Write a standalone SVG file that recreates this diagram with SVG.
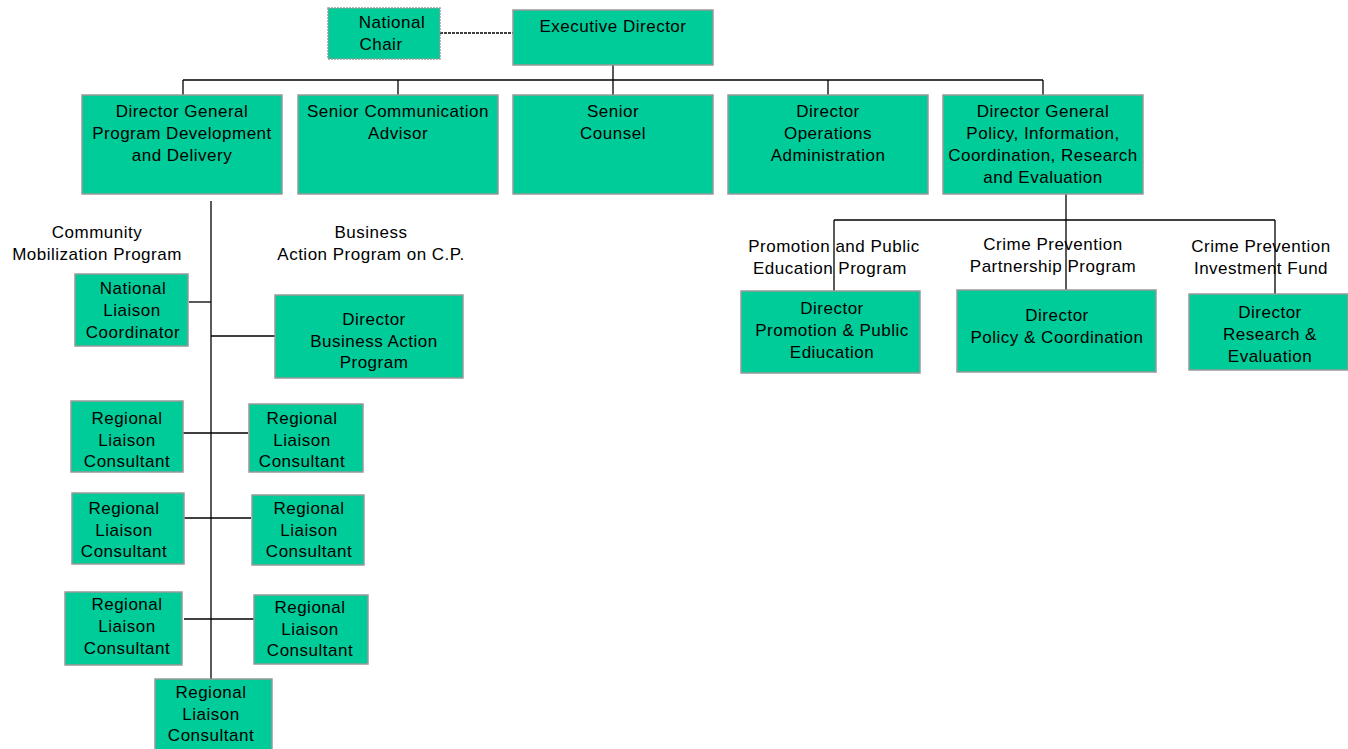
<svg xmlns="http://www.w3.org/2000/svg" width="1348" height="749" viewBox="0 0 1348 749">
<style>
.box{fill:#00cc99;stroke:#999999;stroke-width:1.5}
.t{font-family:"Liberation Sans",Arial,sans-serif;font-size:17px;letter-spacing:0.5px;fill:#000;text-anchor:middle}
.c{stroke:#000;stroke-width:1.3;fill:none}
</style>
<rect width="1348" height="749" fill="#fff"/>
<g id="connectors">
<line class="c" x1="440" y1="33" x2="513" y2="33" stroke-dasharray="3,1"/>
<line class="c" x1="613" y1="65" x2="613" y2="95"/>
<line class="c" x1="183" y1="80" x2="1043" y2="80"/>
<line class="c" x1="183" y1="80" x2="183" y2="95"/>
<line class="c" x1="398" y1="80" x2="398" y2="95"/>
<line class="c" x1="828" y1="80" x2="828" y2="95"/>
<line class="c" x1="1043" y1="80" x2="1043" y2="95"/>
<line class="c" x1="211" y1="201" x2="211" y2="679"/>
<line class="c" x1="189" y1="302" x2="211" y2="302"/>
<line class="c" x1="211" y1="336" x2="275" y2="336"/>
<line class="c" x1="183" y1="433" x2="248" y2="433"/>
<line class="c" x1="179" y1="518" x2="251" y2="518"/>
<line class="c" x1="184" y1="619" x2="256" y2="619"/>
<line class="c" x1="1066" y1="194" x2="1066" y2="290"/>
<line class="c" x1="834" y1="220" x2="1275" y2="220"/>
<line class="c" x1="834" y1="220" x2="834" y2="291"/>
<line class="c" x1="1275" y1="220" x2="1275" y2="294"/>
</g>
<g id="national-chair"><rect class="box" x="328" y="8" width="112" height="51" stroke-dasharray="2,1"/><text class="t" x="392" y="28">National</text><text class="t" x="381" y="50">Chair</text></g>
<g id="executive-director"><rect class="box" x="513" y="10" width="200" height="55"/><text class="t" x="613" y="32">Executive Director</text></g>
<g id="dg-program"><rect class="box" x="82" y="95" width="200" height="99"/><text class="t" x="182" y="117">Director General</text><text class="t" x="182" y="139">Program Development</text><text class="t" x="182" y="161">and Delivery</text></g>
<g id="senior-comm"><rect class="box" x="298" y="95" width="200" height="99"/><text class="t" x="398" y="117">Senior Communication</text><text class="t" x="398" y="139">Advisor</text></g>
<g id="senior-counsel"><rect class="box" x="513" y="95" width="200" height="99"/><text class="t" x="613" y="117">Senior</text><text class="t" x="613" y="139">Counsel</text></g>
<g id="director-operations"><rect class="box" x="728" y="95" width="200" height="99"/><text class="t" x="828" y="117">Director</text><text class="t" x="828" y="139">Operations</text><text class="t" x="828" y="161">Administration</text></g>
<g id="dg-policy"><rect class="box" x="943" y="95" width="200" height="99"/><text class="t" x="1043" y="117">Director General</text><text class="t" x="1043" y="139">Policy, Information,</text><text class="t" x="1043" y="161">Coordination, Research</text><text class="t" x="1043" y="183">and Evaluation</text></g>
<g id="label-community"><text class="t" x="97" y="238">Community</text><text class="t" x="97" y="260">Mobilization Program</text></g>
<g id="label-business"><text class="t" x="371" y="238">Business</text><text class="t" x="371" y="260">Action Program on C.P.</text></g>
<g id="national-liaison"><rect class="box" x="75" y="274" width="113" height="72"/><text class="t" x="133" y="294">National</text><text class="t" x="132" y="316">Liaison</text><text class="t" x="133" y="338">Coordinator</text></g>
<g id="director-business"><rect class="box" x="275" y="295" width="188" height="83"/><text class="t" x="374" y="325">Director</text><text class="t" x="374" y="347">Business Action</text><text class="t" x="374" y="368">Program</text></g>
<g id="rlc-1l"><rect class="box" x="71" y="401" width="112" height="71"/><text class="t" x="127" y="424">Regional</text><text class="t" x="127" y="446">Liaison</text><text class="t" x="127" y="467">Consultant</text></g>
<g id="rlc-1r"><rect class="box" x="249" y="404" width="114" height="68"/><text class="t" x="302" y="424">Regional</text><text class="t" x="302" y="446">Liaison</text><text class="t" x="302" y="467">Consultant</text></g>
<g id="rlc-2l"><rect class="box" x="72" y="493" width="112" height="71"/><text class="t" x="124" y="514">Regional</text><text class="t" x="124" y="536">Liaison</text><text class="t" x="124" y="557">Consultant</text></g>
<g id="rlc-2r"><rect class="box" x="252" y="495" width="112" height="70"/><text class="t" x="309" y="514">Regional</text><text class="t" x="309" y="536">Liaison</text><text class="t" x="309" y="557">Consultant</text></g>
<g id="rlc-3l"><rect class="box" x="65" y="592" width="117" height="73"/><text class="t" x="127" y="610">Regional</text><text class="t" x="127" y="632">Liaison</text><text class="t" x="127" y="654">Consultant</text></g>
<g id="rlc-3r"><rect class="box" x="254" y="595" width="114" height="69"/><text class="t" x="310" y="613">Regional</text><text class="t" x="310" y="635">Liaison</text><text class="t" x="310" y="656">Consultant</text></g>
<g id="rlc-bottom"><rect class="box" x="155" y="679" width="117" height="75"/><text class="t" x="211" y="698">Regional</text><text class="t" x="211" y="720">Liaison</text><text class="t" x="211" y="741">Consultant</text></g>
<g id="label-promotion"><text class="t" x="834" y="252">Promotion and Public</text><text class="t" x="830" y="274">Education Program</text></g>
<g id="label-partnership"><text class="t" x="1053" y="250">Crime Prevention</text><text class="t" x="1053" y="272">Partnership Program</text></g>
<g id="label-investment"><text class="t" x="1261" y="252">Crime Prevention</text><text class="t" x="1261" y="274">Investment Fund</text></g>
<g id="director-promotion"><rect class="box" x="741" y="291" width="179" height="82"/><text class="t" x="832" y="314">Director</text><text class="t" x="832" y="336">Promotion &amp; Public</text><text class="t" x="832" y="358">Ediucation</text></g>
<g id="director-policy"><rect class="box" x="957" y="290" width="199" height="82"/><text class="t" x="1057" y="321">Director</text><text class="t" x="1057" y="343">Policy &amp; Coordination</text></g>
<g id="director-research"><rect class="box" x="1189" y="294" width="159" height="76"/><text class="t" x="1270" y="318">Director</text><text class="t" x="1270" y="340">Research &amp;</text><text class="t" x="1270" y="362">Evaluation</text></g>
</svg>
